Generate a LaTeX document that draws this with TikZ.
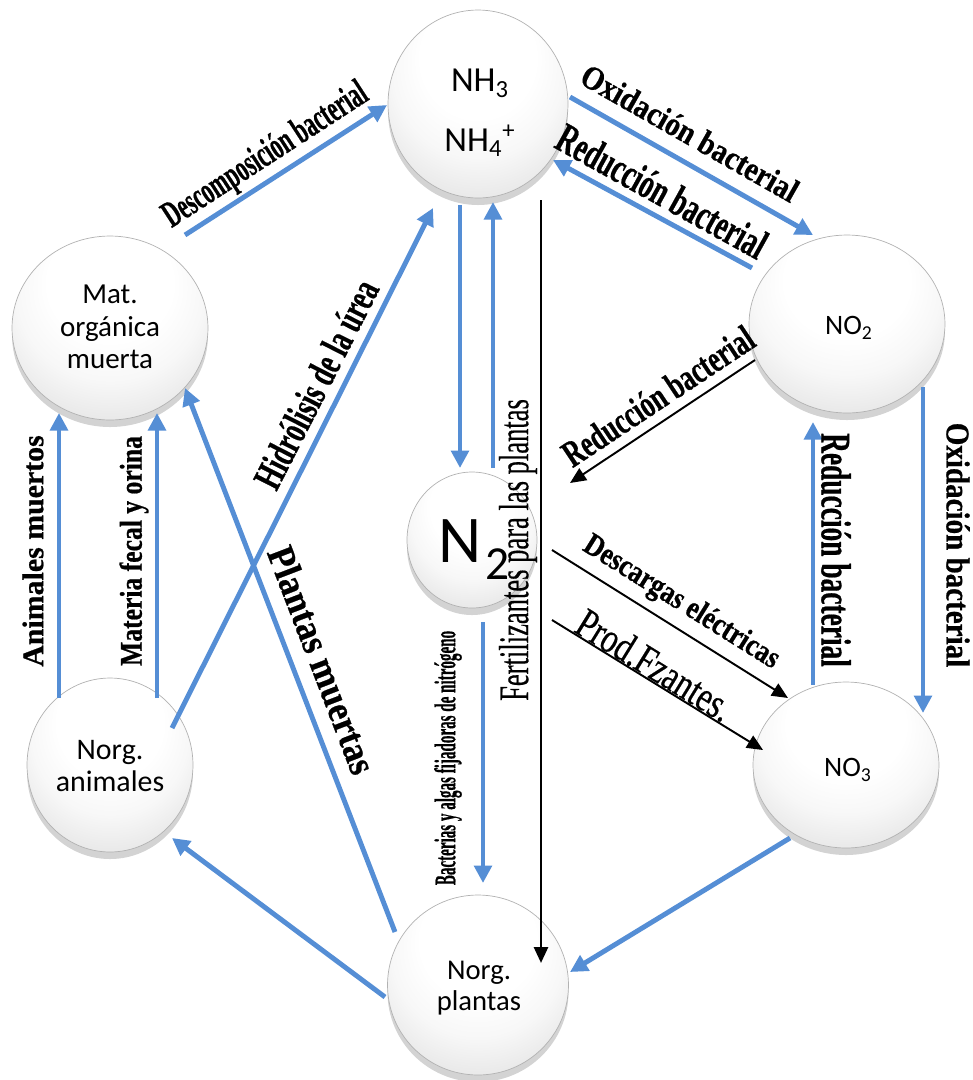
\documentclass[tikz,border=0pt]{standalone}
\usepackage{fontspec}
\usepackage{graphicx}
\setmainfont{Liberation Serif}
\newfontfamily\nodefont{Carlito}
\newfontfamily\heavyfont[FakeBold=0.7]{Liberation Serif Bold}
\newfontfamily\plainfont[FakeBold=0.5]{Liberation Serif}
\usetikzlibrary{arrows.meta,shapes.geometric,shadows}
\definecolor{cycblue}{RGB}{85,142,213}
\pgfdeclareradialshading{bubble}{\pgfpoint{0bp}{18bp}}{color(0bp)=(white); color(16bp)=(white); color(24bp)=(black!3); color(32bp)=(black!9); color(40bp)=(black!14); color(45bp)=(black!19); color(48bp)=(black!27); color(50bp)=(black!45)}
\newcommand{\lab}[3]{\scalebox{#1}[1]{\fontsize{#2}{#2}\heavyfont #3}}
\newcommand{\labr}[3]{\scalebox{#1}[1]{\fontsize{#2}{#2}\plainfont #3}}
\begin{document}
\begin{tikzpicture}[x=0.02cm,y=-0.02cm,
  bub/.style={ellipse, shading=bubble, draw=black!30, line width=0.4pt, inner sep=0pt,
    drop shadow={shadow xshift=0pt, shadow yshift=-4pt, opacity=0.35}},
  ntext/.style={inner sep=0pt, align=center, text=black},
  barrow/.style={draw=cycblue, line width=2.8pt, -{Triangle[length=0.35cm,width=0.35cm]}},
  karrow/.style={draw=black, line width=1.1pt, -{Triangle[length=0.32cm,width=0.28cm]}},
  lbl/.style={inner sep=0pt, anchor=center, text=black}
]
\useasboundingbox (0,0) rectangle (973,1080);

% nodes (shapes)
\node[bub, minimum width=3.6cm, minimum height=3.76cm] (nh3) at (478,104) {};
\node[bub, minimum width=3.92cm, minimum height=3.68cm] (mat) at (110,328) {};
\node[bub, minimum width=3.32cm, minimum height=3.48cm] (ani) at (110,765) {};
\node[bub, minimum width=2.6cm, minimum height=2.72cm] (n2) at (472,540) {};
\node[bub, minimum width=3.62cm, minimum height=3.6cm] (pla) at (478,985) {};
\node[bub, minimum width=3.92cm, minimum height=3.56cm] (no2) at (847,324) {};
\node[bub, minimum width=3.72cm, minimum height=3.32cm] (no3) at (846,765) {};

% node texts
\node[ntext, font={\nodefont\fontsize{20pt}{34pt}\selectfont}] (nh3t) at (480,113)
  {NH\textsubscript{3}\\NH\textsubscript{4}\textsuperscript{+}};
\node[ntext, font={\nodefont\fontsize{16.5pt}{18.6pt}\selectfont}] (matt) at (110,327)
  {Mat.\\orgánica\\muerta};
\node[ntext, font={\nodefont\fontsize{17pt}{18pt}\selectfont}] (anit) at (110,766)
  {Norg.\\animales};
\node[ntext, anchor=base, font={\nodefont\fontsize{38pt}{38pt}\selectfont}] (n2t) at (474,562)
  {N\kern2pt\raisebox{-10pt}{\fontsize{27pt}{27pt}\selectfont 2}};
\node[ntext, font={\nodefont\fontsize{16.3pt}{17.6pt}\selectfont}] (plat) at (479,988)
  {Norg.\\plantas};
\node[ntext, font={\nodefont\fontsize{16pt}{18pt}\selectfont}] (no2t) at (849,328)
  {NO\textsubscript{2}};
\node[ntext, font={\nodefont\fontsize{16pt}{18pt}\selectfont}] (no3t) at (848,770)
  {NO\textsubscript{3}};

% connector end points
\coordinate (descA) at (185,235);   \coordinate (descB) at (387,105);
\coordinate (oxA) at (570,97);      \coordinate (oxB) at (813,235);
\coordinate (redA) at (752,268);    \coordinate (redB) at (553,160);
\coordinate (dnA) at (460,205);     \coordinate (dnB) at (460,468);
\coordinate (upA) at (493,468);     \coordinate (upB) at (493,202);
\coordinate (hidA) at (172,728);    \coordinate (hidB) at (433,208);
\coordinate (pmA) at (395,932);     \coordinate (pmB) at (185,388);
\coordinate (amA) at (59,698);      \coordinate (amB) at (59,413);
\coordinate (mfA) at (157,698);     \coordinate (mfB) at (157,413);
\coordinate (paA) at (385,997);     \coordinate (paB) at (172,838);
\coordinate (npA) at (790,838);     \coordinate (npB) at (570,972);
\coordinate (baA) at (483,622);     \coordinate (baB) at (483,883);
\coordinate (o23A) at (923,387);    \coordinate (o23B) at (923,713);
\coordinate (r32A) at (813,685);    \coordinate (r32B) at (813,422);
\coordinate (feA) at (541,200);     \coordinate (feB) at (541,963);
\coordinate (rmA) at (755,360);     \coordinate (rmB) at (570,483);
\coordinate (deA) at (552,550);     \coordinate (deB) at (788,698);
\coordinate (prA) at (552,620);     \coordinate (prB) at (763,750);

% blue connectors
\draw[barrow] (descA) -- (descB);
\draw[barrow] (oxA) -- (oxB);
\draw[barrow] (redA) -- (redB);
\draw[barrow] (dnA) -- (dnB);
\draw[barrow] (upA) -- (upB);
\draw[barrow] (hidA) -- (hidB);
\draw[barrow] (pmA) -- (pmB);
\draw[barrow] (amA) -- (amB);
\draw[barrow] (mfA) -- (mfB);
\draw[barrow] (paA) -- (paB);
\draw[barrow] (npA) -- (npB);
\draw[barrow] (baA) -- (baB);
\draw[barrow] (o23A) -- (o23B);
\draw[barrow] (r32A) -- (r32B);

% black connectors
\draw[karrow, line width=1.6pt] (feA) -- (feB);
\draw[karrow] (rmA) -- (rmB);
\draw[karrow] (deA) -- (deB);
\draw[karrow] (prA) -- (prB);

% labels
\node[lbl, rotate=33] (tDesc) at (266,156) {\lab{0.58}{21.4pt}{Descomposición bacterial}};
\node[lbl, rotate=-29.6] (tOx1) at (690,133) {\lab{0.87}{19pt}{Oxidación bacterial}};
\node[lbl, rotate=-29] (tRed1) at (662,191) {\lab{0.65}{24pt}{Reducción bacterial}};
\node[lbl, rotate=63] (tHid) at (316,384) {\lab{0.655}{23pt}{Hidrólisis de la úrea}};
\node[lbl, rotate=-69] (tPm) at (322,660) {\lab{0.9}{22pt}{Plantas muertas}};
\node[lbl, rotate=90] (tAm) at (33,551) {\lab{1.0}{17pt}{Animales muertos}};
\node[lbl, rotate=90] (tMf) at (134,551) {\lab{0.81}{18pt}{Materia fecal y orina}};
\node[lbl, rotate=90] (tBa) at (448,758) {\lab{0.505}{17pt}{Bacterias y algas fijadoras de nitrógeno}};
\node[lbl, rotate=90] (tFe) at (518,550) {\labr{0.63}{24pt}{Fertilizantes para las plantas}};
\node[lbl, rotate=33.6] (tRed2) at (658,396) {\lab{0.69}{21.5pt}{Reducción bacterial}};
\node[lbl, rotate=-32] (tDe) at (681,603) {\lab{0.83}{18pt}{Descargas eléctricas}};
\node[lbl, rotate=-31.6] (tPr) at (655,665) {\labr{0.765}{24pt}{Prod.Fzantes.}};
\node[lbl, rotate=-90] (tOx2) at (958,545) {\lab{0.87}{19pt}{Oxidación bacterial}};
\node[lbl, rotate=-90] (tRed3) at (836,550) {\lab{0.65}{24pt}{Reducción bacterial}};
\end{tikzpicture}
\end{document}
